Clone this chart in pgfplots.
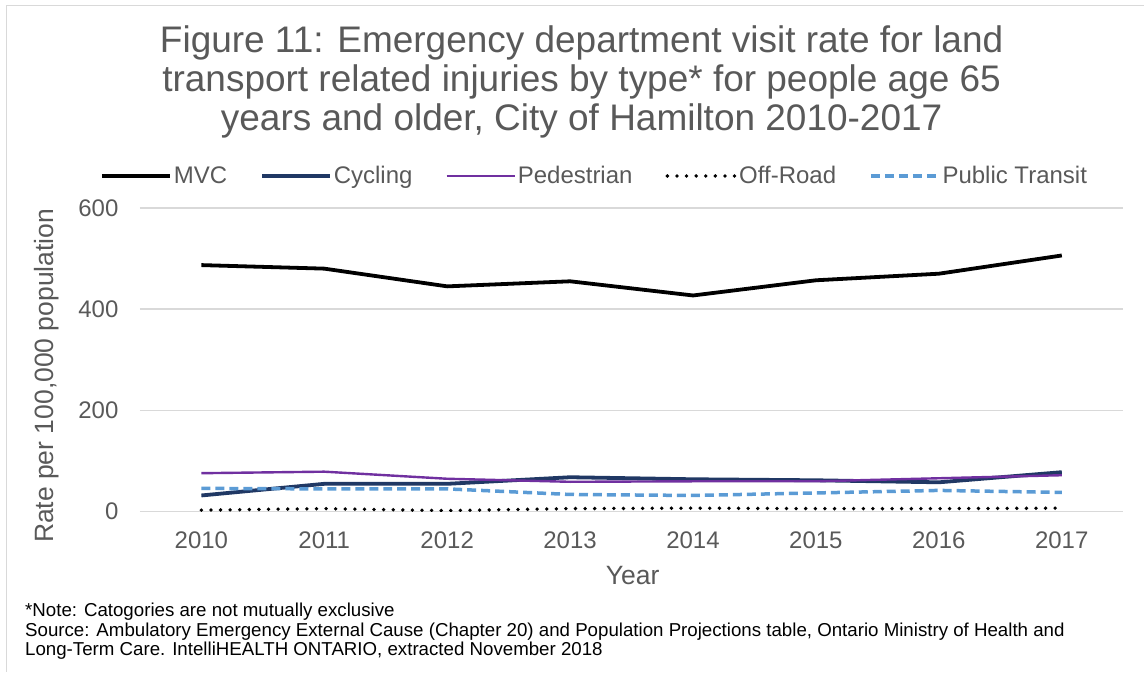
\documentclass[border=0pt]{standalone}
\usepackage{pgfplots}
\pgfplotsset{compat=1.18}
\usepackage{fontspec}
\setmainfont{Liberation Sans}
\definecolor{txt}{HTML}{595959}
\definecolor{cyc}{HTML}{203864}
\definecolor{ped}{HTML}{7030A0}
\definecolor{trn}{HTML}{5B9BD5}
\definecolor{gridc}{HTML}{D9D9D9}

\begin{document}
\begin{tikzpicture}
% page extent and chart frame (left and top edges)
\path (0pt,0pt) rectangle (1145pt,-672pt);
\draw[gridc, line width=1.5pt] (6.5pt,-672pt) -- (6.5pt,-5.5pt) -- (1145pt,-5.5pt);

% title
\begin{scope}[every node/.style={text=txt, font=\fontsize{37}{39}\selectfont, anchor=base, inner sep=0pt}]
\node at (582pt,-53pt) {Figure 11: Emergency department visit rate for land};
\node at (582pt,-92pt) {transport related injuries by type* for people age 65};
\node at (582pt,-131pt) {years and older, City of Hamilton 2010-2017};
\end{scope}

\begin{axis}[
  at={(140pt,-512pt)}, anchor=south west,
  scale only axis, width=984pt, height=304pt,
  xmin=2009.5, xmax=2017.5, ymin=0, ymax=600,
  xtick={2010,...,2017}, ytick={0,200,400,600},
  /pgf/number format/assume math mode=true,
  x tick label style={/pgf/number format/1000 sep={}},
  tick label style={font=\fontsize{24}{24}\selectfont, text=txt},
  xticklabel style={yshift=-17pt},
  yticklabel style={xshift=-18pt},
  axis line style={draw=none},
  tick style={draw=none},
  ymajorgrids,
  major grid style={gridc, line width=1.5pt},
  xlabel={Year},
  ylabel={Rate per 100,000 population},
  label style={font=\fontsize{26.5}{26.5}\selectfont, text=txt},
  xlabel style={at={(axis description cs:0.501,-0.2105)}, anchor=center},
  ylabel style={at={(axis description cs:-0.0945,0.447)}, anchor=center},
  legend columns=5,
  legend cell align=left,
  legend style={
    at={(-0.0407,1.105)}, anchor=west, inner sep=0pt,
    draw=none, fill=none,
    font=\fontsize{24}{24}\selectfont, text=txt,
    /tikz/every even column/.append style={column sep=31pt},
  },
  legend image code/.code={
    \draw[#1] (0pt,0pt) -- (68pt,0pt);
  },
  line join=round,
]
\addplot[black, line width=3.8pt] coordinates {
  (2010,487) (2011,480) (2012,445) (2013,455) (2014,427) (2015,457) (2016,470) (2017,506)};
\addlegendentry{MVC}
\addplot[cyc, line width=3.8pt] coordinates {
  (2010,32) (2011,55) (2012,55) (2013,68) (2014,64) (2015,62) (2016,58) (2017,78)};
\addlegendentry{Cycling}
\addplot[ped, line width=2.4pt] coordinates {
  (2010,76) (2011,79) (2012,65) (2013,59) (2014,60) (2015,60) (2016,66) (2017,72)};
\addlegendentry{Pedestrian}
\addplot[black, line width=3.8pt, line cap=round, dash pattern=on 0pt off 9.6pt] coordinates {
  (2010,3) (2011,6) (2012,2) (2013,6) (2014,7) (2015,6) (2016,6) (2017,7)};
\addlegendentry{Off-Road}
\addplot[trn, line width=3.5pt, dash pattern=on 9pt off 5pt] coordinates {
  (2010,46) (2011,45) (2012,45) (2013,34) (2014,32) (2015,37) (2016,42) (2017,38)};
\addlegendentry{Public Transit}
\end{axis}

% notes
\begin{scope}[every node/.style={font=\fontsize{18.7}{19.5}\selectfont, anchor=base west, inner sep=0pt}]
\node at (25pt,-617pt) {*Note: Catogories are not mutually exclusive};
\node at (25pt,-637pt) {Source: Ambulatory Emergency External Cause (Chapter 20) and Population Projections table, Ontario Ministry of Health and};
\node at (25pt,-656pt) {Long-Term Care. IntelliHEALTH ONTARIO, extracted November 2018};
\end{scope}
\end{tikzpicture}
\end{document}
